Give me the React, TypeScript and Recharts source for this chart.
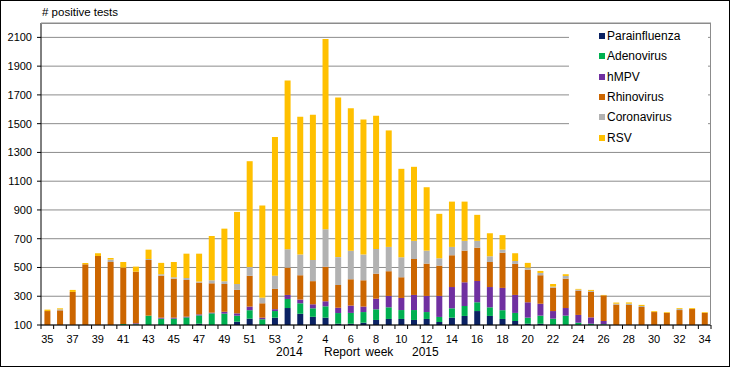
import React from 'react';
import { BarChart, Bar, XAxis, YAxis, CartesianGrid, Legend } from 'recharts';

// report weeks: 35-53 of 2014, 1-34 of 2015
const weeks = [
  '35', '36', '37', '38', '39', '40', '41', '42', '43', '44', '45', '46', '47', '48', '49', '50', '51', '52', '53',
  '1', '2', '3', '4', '5', '6', '7', '8', '9', '10', '11', '12', '13', '14', '15', '16', '17', '18', '19', '20',
  '21', '22', '23', '24', '25', '26', '27', '28', '29', '30', '31', '32', '33', '34',
];

const parainfluenza = [
  0, 0, 0, 0, 0, 0, 0, 0, 0, 0, 0, 0, 109, 0, 0, 123, 144, 0, 151,
  218, 178, 157, 151, 109, 109, 116, 135, 142, 142, 135, 142, 121, 151, 163, 197, 163, 142, 128, 109,
  109, 0, 0, 0, 0, 0, 0, 0, 0, 0, 0, 0, 0, 0,
];
const adenovirus = [
  0, 0, 0, 0, 0, 0, 107, 105, 165, 144, 144, 153, 58, 181, 179, 42, 59, 140, 46,
  63, 73, 59, 79, 74, 75, 74, 74, 81, 62, 69, 48, 35, 65, 69, 61, 60, 61, 56, 42,
  56, 144, 165, 116, 109, 105, 0, 0, 0, 0, 0, 0, 0, 0,
];
const hmpv = [
  0, 0, 0, 0, 0, 0, 0, 7, 0, 7, 7, 5, 7, 5, 13, 16, 25, 11, 13,
  28, 26, 28, 35, 37, 51, 38, 74, 79, 84, 105, 112, 146, 148, 165, 148, 141, 155, 125, 107,
  83, 53, 53, 54, 44, 23, 0, 0, 0, 0, 0, 0, 0, 0,
];
const rhinovirus = [
  197, 202, 330, 522, 580, 538, 392, 359, 387, 292, 271, 255, 221, 204, 193, 163, 214, 100, 141,
  190, 169, 161, 240, 158, 183, 183, 174, 172, 144, 250, 225, 211, 221, 220, 232, 174, 245, 216, 227,
  198, 163, 204, 169, 177, 178, 242, 239, 225, 190, 184, 204, 211, 184,
];
const coronavirus = [
  0, 7, 0, 0, 0, 17, 0, 0, 7, 10, 10, 14, 7, 21, 19, 41, 61, 39, 92,
  128, 144, 147, 261, 194, 199, 179, 172, 169, 139, 126, 90, 51, 58, 68, 47, 40, 21, 20, 14,
  16, 7, 19, 7, 7, 0, 6, 9, 7, 0, 0, 7, 0, 0,
];
const rsv = [
  10, 7, 14, 9, 19, 11, 39, 35, 65, 79, 106, 169, 194, 308, 366, 501, 736, 641, 965,
  1174, 958, 1010, 1322, 1110, 991, 939, 926, 810, 615, 515, 441, 309, 315, 273, 181, 160, 101, 54, 33,
  14, 18, 12, 5, 7, 3, 8, 9, 8, 6, 5, 6, 6, 5,
];

const yTicks = [100, 300, 500, 700, 900, 1100, 1300, 1500, 1700, 1900, 2100];

const series = [
  { key: 'Parainfluenza', values: parainfluenza, color: '#0B2263' },
  { key: 'Adenovirus', values: adenovirus, color: '#00B050' },
  { key: 'hMPV', values: hmpv, color: '#7030A0' },
  { key: 'Rhinovirus', values: rhinovirus, color: '#CC6600' },
  { key: 'Coronavirus', values: coronavirus, color: '#B2B2B2' },
  { key: 'RSV', values: rsv, color: '#FFC000' },
];
const seriesOrder = series.map(s => s.key);

const data = weeks.map((week, i) => {
  const row: Record<string, string | number> = { week };
  series.forEach(s => { row[s.key] = s.values[i]; });
  return row;
});

const FONT = '"Liberation Sans", Arial, sans-serif';
const PLOT_W = 670;
const BAND = PLOT_W / weeks.length;

const WeekTick = (props: any) => {
  const { x, y, payload } = props;
  const idx = weeks.indexOf(String(payload.value));
  const half = BAND / 2;
  return (
    <g>
      <line x1={x - half} y1={y} x2={x - half} y2={y + 4} stroke="#000" />
      {idx === weeks.length - 1 && <line x1={x + half} y1={y} x2={x + half} y2={y + 4} stroke="#000" />}
      {idx % 2 === 0 && (
        <text x={x} y={y + 18} textAnchor="middle" fontSize={11} fill="#000" fontFamily={FONT}>
          {payload.value}
        </text>
      )}
    </g>
  );
};

const renderLegend = (props: any) => {
  const items = [...(props.payload || [])].sort(
    (a: any, b: any) => seriesOrder.indexOf(a.value) - seriesOrder.indexOf(b.value)
  );
  return (
    <div style={{ paddingTop: 2 }}>
      {items.map((entry: any) => (
        <div key={entry.value} style={{ display: 'flex', alignItems: 'center', height: 20.3, fontSize: 12, color: '#000' }}>
          <span style={{ display: 'inline-block', width: 6, height: 6, background: entry.color, marginLeft: 30, marginRight: 2 }} />
          <span>{entry.value}</span>
        </div>
      ))}
    </div>
  );
};

export default function App() {
  return (
    <div style={{ position: 'absolute', left: 0, top: 0, width: 730, height: 367, background: '#fff', fontFamily: FONT }}>
      <BarChart
        width={730}
        height={367}
        data={data}
        margin={{ top: 23, right: 19, left: 0, bottom: 0 }}
        barCategoryGap="27%"
      >
        <CartesianGrid vertical={false} stroke="#8c8c8c" />
        <XAxis
          dataKey="week"
          height={42}
          interval={0}
          tickSize={0}
          tickMargin={0}
          tickLine={false}
          axisLine={{ stroke: '#000' }}
          tick={<WeekTick />}
        />
        <YAxis
          width={41}
          domain={[100, 2200]}
          ticks={yTicks}
          allowDataOverflow
          tickSize={4}
          tickMargin={5}
          axisLine={{ stroke: '#000' }}
          tickLine={{ stroke: '#000' }}
          tick={{ fontSize: 11, fill: '#000', fontFamily: FONT }}
        />
        <Legend
          layout="horizontal"
          verticalAlign="middle"
          align="center"
          content={renderLegend}
          wrapperStyle={{ position: 'absolute', left: 569, top: 24, width: 139, height: 121, background: '#fff' }}
        />
        {series.map(s => (
          <Bar key={s.key} dataKey={s.key} stackId="a" fill={s.color} isAnimationActive={false} />
        ))}
      </BarChart>
      {/* plot frame top/right */}
      <div style={{ position: 'absolute', left: 41, top: 23, width: PLOT_W, height: 302, boxSizing: 'border-box', borderTop: '1px solid #8c8c8c', borderRight: '1px solid #8c8c8c', pointerEvents: 'none' }} />
      <div style={{ position: 'absolute', left: 42, top: 6, fontSize: 11.5, color: '#000' }}># positive tests</div>
      <div style={{ position: 'absolute', left: 276, top: 345, fontSize: 12, color: '#000' }}>2014</div>
      <div style={{ position: 'absolute', left: 324, top: 345, fontSize: 12, color: '#000', wordSpacing: 2 }}>Report week</div>
      <div style={{ position: 'absolute', left: 412, top: 345, fontSize: 12, color: '#000' }}>2015</div>
      <div style={{ position: 'absolute', left: 0, top: 0, width: 730, height: 367, boxSizing: 'border-box', border: '1px solid #000', pointerEvents: 'none' }} />
    </div>
  );
}
